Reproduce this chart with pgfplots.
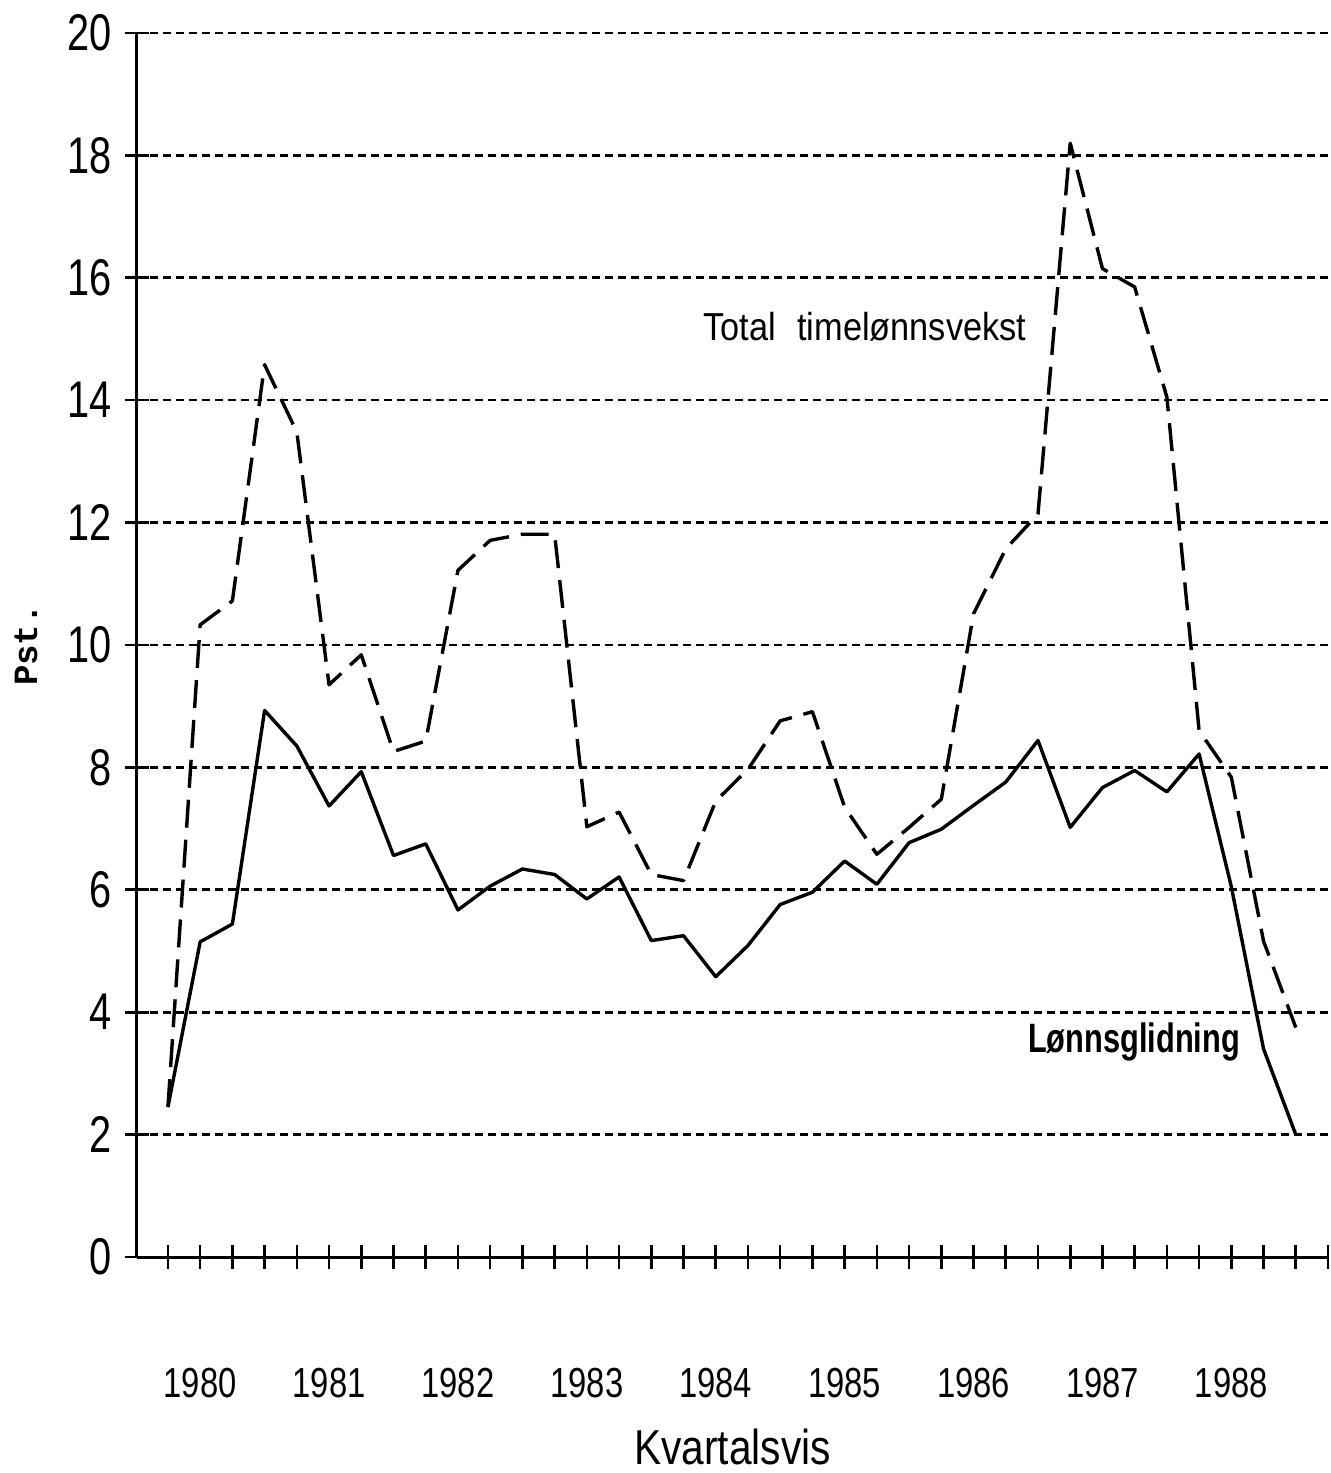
\documentclass[border=0pt]{standalone}
\usepackage{pgfplots}
\pgfplotsset{compat=1.18}
\usepackage{pgfplotstable}
\usepackage{fontspec}
\setmainfont{Liberation Sans}
\newfontfamily\tickfont{Liberation Sans}[FakeStretch=0.77]
\newfontfamily\yearfont{Liberation Sans}[FakeStretch=0.78]
\newfontfamily\labfont{Liberation Sans}[FakeStretch=0.83]
\newfontfamily\annfont{Liberation Sans}[FakeStretch=0.88]
\newfontfamily\boldann{Liberation Sans Bold}[FakeStretch=0.75]
\newfontfamily\pstfont{Liberation Mono}

\pgfplotstableread{
i tot glid
0 2.45 2.45
1 10.33 5.15
2 10.72 5.44
3 14.58 8.93
4 13.48 8.35
5 9.35 7.37
6 9.84 7.93
7 8.26 6.56
8 8.43 6.75
9 11.22 5.67
10 11.71 6.06
11 11.81 6.34
12 11.81 6.25
13 7.03 5.85
14 7.27 6.21
15 6.25 5.17
16 6.15 5.25
17 7.45 4.58
18 7.97 5.09
19 8.76 5.76
20 8.91 5.96
21 7.35 6.47
22 6.58 6.09
23 7.02 6.77
24 7.48 6.99
25 10.51 7.38
26 11.57 7.76
27 12.14 8.44
28 18.2 7.02
29 16.15 7.67
30 15.85 7.95
31 14.05 7.60
32 8.6 8.22
33 7.84 6.05
34 5.16 3.40
35 3.75 2.00
}\data

\begin{document}
\begin{tikzpicture}
\useasboundingbox (-68.5pt,-108pt) rectangle (597pt,628.5pt);
\begin{axis}[
  at={(0,0)}, anchor=south west,
  scale only axis, width=595.5pt, height=612pt,
  xmin=-0.96, xmax=36, ymin=0, ymax=20,
  axis lines=left,
  axis line style={-, line width=1.5pt, black},
  xtick={0,...,36},
  xticklabels={,1980,,,,1981,,,,1982,,,,1983,,,,1984,,,,1985,,,,1986,,,,1987,,,,1988,,,},
  ytick={0,2,...,20},
  tick align=center,
  major tick length=12pt,
  tick style={line width=1.3pt, black},
  ymajorgrids,
  grid style={black, line width=1.3pt, dash pattern=on 4pt off 2.5pt},
  /pgf/number format/assume math mode=true,
  yticklabel style={font=\tickfont\fontsize{25.8}{26}\selectfont, anchor=east, xshift=-3pt},
  xticklabel style={font=\yearfont\fontsize{21}{21}\selectfont, anchor=center, yshift=-57pt},
  clip=false,
]
\addplot[black, line width=1.7pt, line join=round] table[x=i, y=glid] {\data};
\addplot[black, line width=1.7pt, line join=round, dash pattern=on 14pt off 6pt] table[x=i, y=tot] {\data};
\node[font=\annfont\fontsize{19.5}{20}\selectfont] at (axis cs:21.63,15.2) {Total\hspace{0.3em} timelønnsvekst};
\node[font=\boldann\fontsize{20.5}{21}\selectfont] at (axis cs:29.98,3.51) {Lønnsglidning};
\node[font=\labfont\fontsize{24.5}{25}\selectfont, inner sep=0pt] at ([yshift=-95pt]axis description cs:0.5,0) {Kvartalsvis};
\node[font=\pstfont\bfseries\fontsize{17}{17}\selectfont, rotate=90, inner sep=0pt] at ([xshift=-55.5pt]axis description cs:0,0.5) {Pst.};
\end{axis}
\end{tikzpicture}
\end{document}
